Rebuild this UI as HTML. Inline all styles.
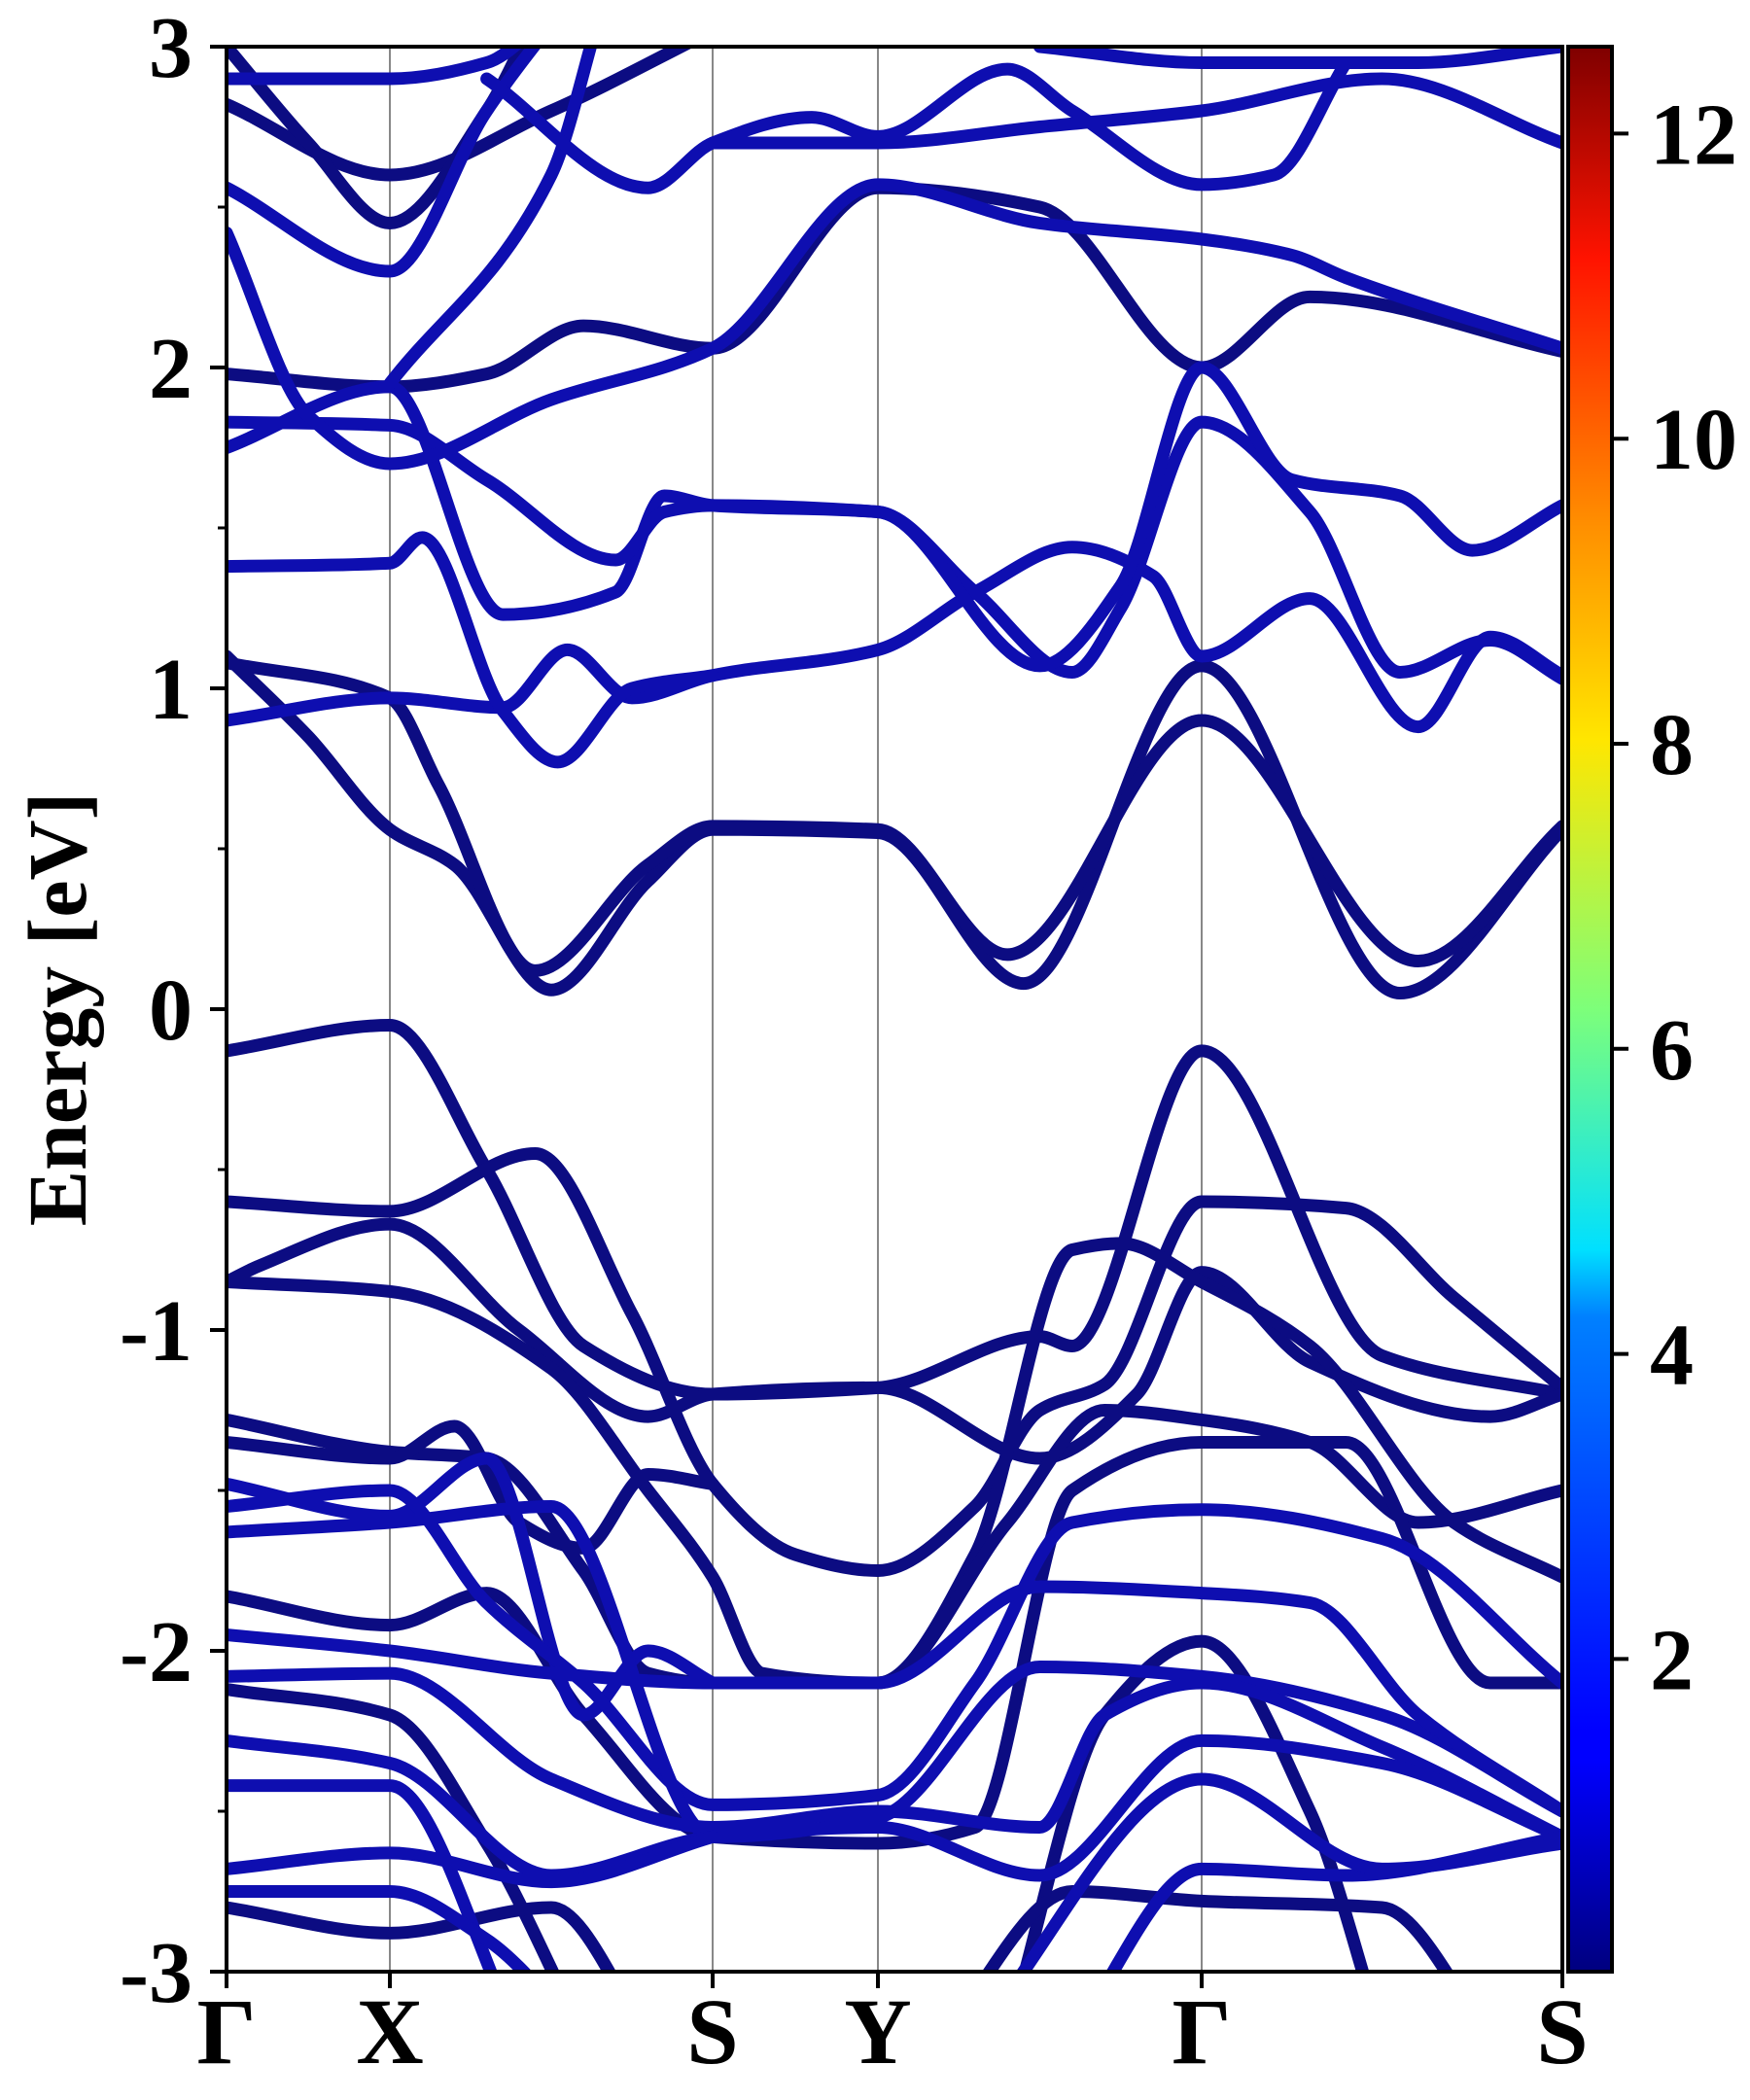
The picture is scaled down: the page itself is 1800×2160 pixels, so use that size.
<!DOCTYPE html>
<html><head><meta charset="utf-8"><style>
html,body{margin:0;padding:0;background:#fff}
svg{display:block}
text{font-family:"Liberation Serif",serif;font-weight:bold;fill:#000}
</style></head><body>
<svg id="chart" xmlns="http://www.w3.org/2000/svg" width="1800" height="2160" viewBox="0 0 1800 2160">
<defs>
<clipPath id="plotclip"><rect x="233" y="48" width="1374" height="1980"/></clipPath>
<linearGradient id="jet" x1="0" y1="1" x2="0" y2="0">
<stop offset="0" stop-color="#00007f"/><stop offset="0.11" stop-color="#0000ff"/>
<stop offset="0.125" stop-color="#0000ff"/><stop offset="0.34" stop-color="#0080ff"/>
<stop offset="0.375" stop-color="#00e0ff"/><stop offset="0.5" stop-color="#7dff7a"/>
<stop offset="0.64" stop-color="#ffe600"/><stop offset="0.75" stop-color="#ff9000"/>
<stop offset="0.89" stop-color="#ff1300"/><stop offset="1" stop-color="#7f0000"/>
</linearGradient>
</defs>
<g id="grid"></g>
<g id="bands" clip-path="url(#plotclip)"></g>
<g id="axes"></g>
<text transform="translate(88,1038) rotate(-90)" text-anchor="middle" font-size="86">Energy [eV]</text>
<rect x="1613" y="48" width="45" height="1980" fill="url(#jet)" stroke="#000" stroke-width="4"/>
<g id="cbticks"></g>
</svg>
<script>
const kLabels=["Γ","X","S","Y","Γ","S"];
const yTicks=[3,2,1,0,-1,-2,-3];
const cbTicks=[2,4,6,8,10,12];
const bandsDark=[
[[0,1.1],[0.5,0.85],[1,0.56],[1.2,0.45],[1.5,0.06],[1.8,0.4],[2,0.56],[3,0.55],[3.45,0.08],[4,1.07],[4.55,0.05],[5,0.56]],
[[0,1.08],[1,0.97],[1.15,0.7],[1.45,0.12],[1.8,0.45],[2,0.57],[3,0.56],[3.4,0.17],[4,0.9],[4.6,0.15],[5,0.57]],
[[0,-0.13],[1,-0.05],[1.3,-0.5],[1.6,-1.05],[2,-1.2],[3,-1.18],[3.5,-1.02],[3.6,-1.05],[4,-0.13],[4.5,-1.08],[5,-1.2]],
[[0,-0.6],[1,-0.63],[1.45,-0.45],[1.75,-0.95],[2,-1.48],[2.5,-1.7],[3,-1.75],[3.3,-1.55],[3.5,-1.25],[3.7,-1.17],[4,-0.6],[4.4,-0.62],[4.7,-0.9],[5,-1.18]],
[[0,-0.85],[0.2,-0.8],[1,-0.67],[1.4,-1.0],[1.8,-1.27],[2,-1.2],[3,-1.18],[3.5,-1.4],[3.8,-1.2],[4,-0.82],[4.3,-1.1],[4.8,-1.27],[5,-1.2]],
[[0,-0.85],[1,-0.88],[1.5,-1.12],[1.8,-1.5],[2,-1.77],[2.3,-2.07],[3,-2.1],[3.3,-1.7],[3.6,-0.75],[3.75,-0.73],[4,-0.85],[4.3,-1.05],[4.7,-1.6],[5,-1.77]],
[[0,-1.28],[1,-1.38],[1.3,-1.4],[1.6,-1.75],[1.8,-2.07],[2,-2.1],[3,-2.1],[3.4,-1.6],[3.7,-1.25],[4,-1.28],[4.3,-1.35],[4.6,-1.6],[5,-1.5]],
[[0,-1.35],[1,-1.4],[1.2,-1.3],[1.4,-1.6],[1.6,-1.68],[1.8,-1.45],[2,-1.48]],
[[0,-1.83],[1,-1.92],[1.3,-1.82],[1.6,-2.2],[2,-2.58],[3,-2.6],[3.3,-2.55],[3.6,-1.5],[4,-1.35],[4.4,-1.35],[4.8,-2.1],[5,-2.1]],
[[0,-2.12],[1,-2.2],[1.3,-2.6],[1.6,-3.2]],
[[0,-2.8],[1,-2.88],[1.5,-2.8],[1.8,-3.2]],
[[3.4,-3.2],[3.7,-2.2],[4,-1.97],[4.3,-2.5],[4.5,-3.2]],
[[3.2,-3.2],[3.6,-2.75],[4,-2.78],[4.5,-2.8],[4.8,-3.2]],
[[0,2.82],[1,2.6],[1.5,2.8],[2,3.05]],
[[0,3.0],[0.5,2.7],[1,2.45],[1.3,2.8],[1.5,3.2]],
[[0,1.98],[1,1.94],[1.3,1.98],[1.6,2.13],[2,2.06],[3,2.56],[3.5,2.5],[4,2.0],[4.3,2.22],[5,2.05]]
];
const bandsBright=[
[[0,0.9],[1,0.97],[1.35,0.94],[1.55,1.12],[1.75,0.97],[2,1.04],[3,1.12],[3.3,1.3],[3.6,1.44],[3.85,1.35],[4,1.1],[4.3,1.28],[4.6,0.88],[4.8,1.16],[5,1.04]],
[[0,1.38],[1,1.39],[1.1,1.47],[1.35,0.93],[1.52,0.77],[1.75,1.0],[2,1.04]],
[[0,1.75],[1,1.94],[1.35,1.23],[1.7,1.3],[1.85,1.6],[2,1.57],[3,1.55],[3.3,1.3],[3.6,1.05],[3.75,1.25],[4,1.83],[4.3,1.55],[4.55,1.05],[4.8,1.15],[5,1.03]],
[[0,1.83],[1,1.82],[1.3,1.65],[1.7,1.4],[1.85,1.55],[2,1.57],[3,1.55],[3.5,1.07],[3.75,1.32],[4,2.0],[4.25,1.65],[4.55,1.6],[4.75,1.43],[5,1.57]],
[[0,2.42],[0.5,1.85],[1,1.7],[1.5,1.9],[2,2.06],[3,2.57],[3.5,2.45],[4,2.4],[4.25,2.35],[4.4,2.28],[5,2.06]],
[[0,2.56],[1,2.3],[1.3,2.8],[1.6,3.2]],
[[0,2.9],[1,2.9],[1.3,2.95],[1.5,3.1]],
[[1,1.95],[1.5,2.6],[1.65,3.1]],
[[1.3,2.9],[1.8,2.56],[2,2.7],[2.6,2.78],[3,2.72],[3.4,2.93],[3.6,2.8],[4,2.57],[4.2,2.6],[4.4,2.95]],
[[2,2.7],[3,2.7],[3.5,2.75],[4,2.8],[4.5,2.9],[5,2.7]],
[[3.5,3.0],[4,2.95],[4.6,2.95],[5,3.0]],
[[0,-1.48],[1,-1.58],[1.3,-1.4],[1.6,-2.2],[1.8,-2.0],[2,-2.1]],
[[0,-1.55],[1,-1.5],[1.3,-1.85],[1.6,-2.1],[2,-2.48],[3,-2.45],[3.3,-2.1],[3.6,-1.6],[4,-1.56],[4.5,-1.65],[5,-2.1]],
[[0,-1.63],[1,-1.6],[1.5,-1.55],[2,-2.58],[3,-2.52],[3.5,-2.05],[4,-2.08],[4.5,-2.2],[5,-2.5]],
[[0,-1.95],[1,-2.0],[1.5,-2.07],[2,-2.1],[3,-2.1],[3.5,-1.8],[4,-1.82],[4.3,-1.85],[4.6,-2.2],[5,-2.5]],
[[0,-2.08],[1,-2.07],[1.5,-2.4],[2,-2.55],[3,-2.5],[3.5,-2.55],[3.7,-2.2],[4,-2.1],[4.5,-2.3],[5,-2.58]],
[[0,-2.28],[1,-2.35],[1.5,-2.7],[2,-2.58],[3,-2.55],[3.5,-2.7],[4,-2.28],[4.5,-2.35],[5,-2.58]],
[[0,-2.42],[1,-2.42],[1.4,-3.2]],
[[0,-2.68],[1,-2.63],[1.5,-2.72],[2,-2.58]],
[[0,-2.75],[1,-2.75],[1.3,-2.9],[1.6,-3.2]],
[[3.6,-3.2],[4,-2.68],[4.4,-2.7],[5,-2.58]],
[[3.3,-3.2],[4,-2.4],[4.5,-2.68],[5,-2.6]]
];
const NS="http://www.w3.org/2000/svg";
const kPix=[233,401,733,903,1236,1607];
const X0=233,X1=1607,Y0=48,Y1=2028,EMIN=-3,EMAX=3,CBMIN=-0.05,CBMAX=12.57;
function xs(k){const i=Math.min(4,Math.max(0,Math.floor(k)));return kPix[i]+(k-i)*(kPix[i+1]-kPix[i]);}
function ys(e){return Y0+(EMAX-e)/(EMAX-EMIN)*(Y1-Y0);}
function cbs(v){return Y1-(v-CBMIN)/(CBMAX-CBMIN)*(Y1-Y0);}
function mk(tag,attrs,parent){const el=document.createElementNS(NS,tag);for(const a in attrs)el.setAttribute(a,attrs[a]);parent.appendChild(el);return el;}
function pathFor(pts){
 const p=pts.map(q=>[xs(q[0]),ys(q[1])]);
 const n=p.length;
 const d0=[],m=[];
 for(let i=0;i<n-1;i++)d0.push((p[i+1][1]-p[i][1])/(p[i+1][0]-p[i][0]));
 for(let i=0;i<n;i++){
  if(i===0)m.push(d0[0]);
  else if(i===n-1)m.push(d0[n-2]);
  else if(d0[i-1]*d0[i]<=0)m.push(0);
  else{const h0=p[i][0]-p[i-1][0],h1=p[i+1][0]-p[i][0];const w1=2*h1+h0,w2=h1+2*h0;m.push((w1+w2)/(w1/d0[i-1]+w2/d0[i]));}
 }
 let d="M"+p[0][0].toFixed(1)+","+p[0][1].toFixed(1);
 for(let i=0;i<n-1;i++){
  const h=(p[i+1][0]-p[i][0])/3;
  d+="C"+(p[i][0]+h).toFixed(1)+","+(p[i][1]+m[i]*h).toFixed(1)+" "+(p[i+1][0]-h).toFixed(1)+","+(p[i+1][1]-m[i+1]*h).toFixed(1)+" "+p[i+1][0].toFixed(1)+","+p[i+1][1].toFixed(1);
 }
 return d;
}
const grid=document.getElementById("grid"),bandsG=document.getElementById("bands"),axes=document.getElementById("axes"),cbG=document.getElementById("cbticks");
for(let i=1;i<kLabels.length-1;i++){
 const l=mk("line",{x1:xs(i),x2:xs(i),y1:Y0,y2:Y1,stroke:"#888","stroke-width":2},grid);
 
 
}
function drawBands(list,col){
 list.forEach(b=>{
  const p=mk("path",{d:pathFor(b),fill:"none",stroke:col,"stroke-width":13,"stroke-linecap":"round","stroke-linejoin":"round"},bandsG);
  
  
 });
}
drawBands(bandsDark,"#0c0c82");
drawBands(bandsBright,"#0e0eb0");
const frame=mk("rect",{x:X0,y:Y0,width:X1-X0,height:Y1-Y0,fill:"none",stroke:"#000","stroke-width":4},axes);


yTicks.forEach(t=>{
 const y=ys(t);
 const tk=mk("line",{x1:X0-17,x2:X0,y1:y,y2:y,stroke:"#000","stroke-width":4},axes);
 
 
 const tx=mk("text",{x:198,y:y+31,"text-anchor":"end","font-size":90},axes);
 tx.textContent=String(t);
 
 
});
for(let e=-2.5;e<3;e+=1){
 const y=ys(e);
 const m=mk("line",{x1:X0-9,x2:X0,y1:y,y2:y,stroke:"#000","stroke-width":3},axes);
 
 
}
kLabels.forEach((lab,i)=>{
 const x=xs(i);
 const tk=mk("line",{x1:x,x2:x,y1:Y1,y2:Y1+17,stroke:"#000","stroke-width":4},axes);
 
 
 const tx=mk("text",{x:x,y:2122,"text-anchor":"middle","font-size":96},axes);
 tx.textContent=lab;
 
 
});
cbTicks.forEach(v=>{
 const y=cbs(v);
 const tk=mk("line",{x1:1658,x2:1675,y1:y,y2:y,stroke:"#000","stroke-width":4},cbG);
 
 
 const tx=mk("text",{x:1697,y:y+31,"font-size":90},cbG);
 tx.textContent=String(v);
 
 
});
</script>
</body></html>
